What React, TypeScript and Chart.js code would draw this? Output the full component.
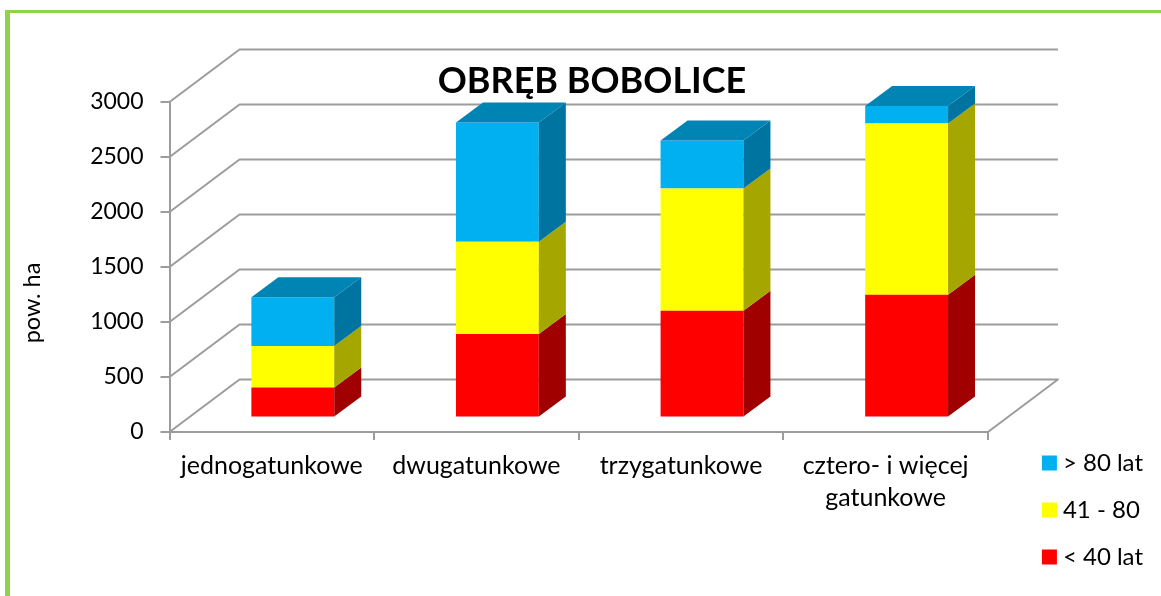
import React, { useEffect, useRef } from "react";
import { Chart, registerables } from "chart.js";

Chart.register(...registerables);

const categories: (string | string[])[] = ["jednogatunkowe", "dwugatunkowe", "trzygatunkowe", ["cztero- i więcej", "gatunkowe"]];
const under40 = [273, 760, 970, 1116];
const from41to80 = [378, 838, 1111, 1557];
const over80 = [442, 1084, 437, 159];
const seriesLabels = ["< 40 lat", "41 - 80", "> 80 lat"];
const frontColors = ["#ff0000", "#ffff00", "#00b0f0"];
const sideColors = ["#a00000", "#a6a600", "#0074a0"];
const topColor = "#0084b4";
const tickValues = { min: 0, max: 3000, step: 500 };
const FONT = "Lato";
const AXIS = "#9c9c9c";

const wall = { dx: 70, dy: -52.5 };
const barShift = { dx: 21, dy: -14.5 };
const barDepth = { dx: 27, dy: -20 };

const poly = (ctx: CanvasRenderingContext2D, pts: number[][], color: string) => {
  ctx.beginPath();
  pts.forEach(([x, y], i) => (i ? ctx.lineTo(x, y) : ctx.moveTo(x, y)));
  ctx.closePath();
  ctx.fillStyle = color;
  ctx.fill();
};

const box3d = {
  id: "box3d",
  afterLayout(chart: any) {
    const t = chart.titleBlock;
    t.left += 34;
    t.right += 34;
    t.top += 1;
    t.bottom += 1;
    const lg = chart.legend;
    lg.left += 37;
    lg.right += 37;
    lg.top += 6;
    lg.bottom += 6;
    const s = chart.scales.y;
    if (!s.__shifted) {
      s.__shifted = true;
      const drawTitle = s.drawTitle;
      s.drawTitle = function () {
        this.ctx.save();
        this.ctx.translate(0, 36);
        drawTitle.call(this);
        this.ctx.restore();
      };
    }
  },
  beforeDatasetsDraw(chart: any) {
    const { ctx, chartArea: a, scales } = chart;
    ctx.save();
    ctx.strokeStyle = AXIS;
    ctx.lineWidth = 2;
    ctx.lineJoin = "round";
    scales.y.ticks.forEach((t: any) => {
      const y = scales.y.getPixelForValue(t.value);
      ctx.beginPath();
      ctx.moveTo(a.left, y);
      ctx.lineTo(a.left + wall.dx, y + wall.dy);
      ctx.lineTo(a.right + wall.dx, y + wall.dy);
      if (t.value === tickValues.min) ctx.lineTo(a.right, y);
      ctx.stroke();
    });
    ctx.restore();
    ctx.save();
    ctx.translate(barShift.dx, barShift.dy);
  },
  afterDatasetsDraw(chart: any) {
    const { ctx } = chart;
    const count = chart.data.datasets.length;
    chart.data.datasets.forEach((_: any, d: number) => {
      chart.getDatasetMeta(d).data.forEach((bar: any) => {
        const { x, y, base, width } = bar.getProps(["x", "y", "base", "width"], true);
        const r = x + width / 2;
        const l = x - width / 2;
        poly(ctx, [[r, y], [r + barDepth.dx, y + barDepth.dy], [r + barDepth.dx, base + barDepth.dy], [r, base]], sideColors[d]);
        if (d === count - 1) {
          poly(ctx, [[l, y], [l + barDepth.dx, y + barDepth.dy], [r + barDepth.dx, y + barDepth.dy], [r, y]], topColor);
        }
      });
    });
    ctx.restore();
  },
};

export default function App() {
  const ref = useRef<HTMLCanvasElement>(null);
  useEffect(() => {
    const chart = new Chart(ref.current!, {
      type: "bar",
      data: {
        labels: categories as any,
        datasets: [under40, from41to80, over80].map((data, i) => ({
          label: seriesLabels[i],
          data,
          backgroundColor: frontColors[i],
          borderWidth: 0,
          barPercentage: 0.405,
          categoryPercentage: 1,
          clip: false as any,
        })),
      },
      options: {
        animation: false,
        responsive: false,
        layout: { padding: { left: 0, right: 45, bottom: 10, top: 0 } },
        plugins: {
          tooltip: { enabled: false },
          title: {
            display: true,
            text: "OBRĘB BOBOLICE",
            color: "#000",
            font: { family: FONT, size: 36, weight: "bold", lineHeight: 1.2 },
            padding: { top: 58.8, bottom: 0 },
          },
          legend: {
            position: "right",
            align: "end",
            reverse: true,
            labels: {
              color: "#000",
              font: { family: FONT, size: 24 },
              boxWidth: 3,
              boxHeight: 3,
              padding: 23,
              generateLabels: (c: any) =>
                c.data.datasets.map((ds: any, i: number) => ({
                  text: ds.label,
                  fillStyle: ds.backgroundColor,
                  strokeStyle: ds.backgroundColor,
                  lineWidth: 12,
                  datasetIndex: i,
                  fontColor: "#000",
                })),
            },
          },
        },
        scales: {
          x: {
            stacked: true,
            border: { color: AXIS, width: 2 },
            grid: { color: AXIS, lineWidth: 2, drawOnChartArea: false, tickLength: 8 },
            ticks: { color: "#000", font: { family: FONT, size: 25, lineHeight: 1.28 }, maxRotation: 0, minRotation: 0, autoSkip: false, padding: 10 },
            afterFit: (s: any) => { s.height = 154; },
          },
          y: {
            stacked: true,
            min: tickValues.min,
            max: tickValues.max,
            border: { color: AXIS, width: 2 },
            grid: { color: AXIS, lineWidth: 2, drawOnChartArea: false, tickLength: 9 },
            ticks: { color: "#000", stepSize: tickValues.step, font: { family: FONT, size: 23 }, padding: 17, callback: (v: any) => String(v) },
            title: { display: true, text: "pow. ha", color: "#000", font: { family: FONT, size: 23.5 }, padding: { top: 18, bottom: 0 } },
            afterFit: (s: any) => { s.width = 169.5; },
          },
        },
      },
      plugins: [box3d],
    } as any);
    return () => chart.destroy();
  }, []);
  return (
    <div style={{ position: "absolute", left: 0, top: 0, width: 1161, height: 596, overflow: "hidden", background: "#fff" }}>
      <div style={{ position: "absolute", left: 5, top: 10, width: 1156, height: 586, boxSizing: "border-box", borderLeft: "5px solid #92d050", borderTop: "3px solid #92d050" }} />
      <canvas ref={ref} width={1161} height={596} style={{ position: "absolute", left: 0, top: 0 }} />
    </div>
  );
}
